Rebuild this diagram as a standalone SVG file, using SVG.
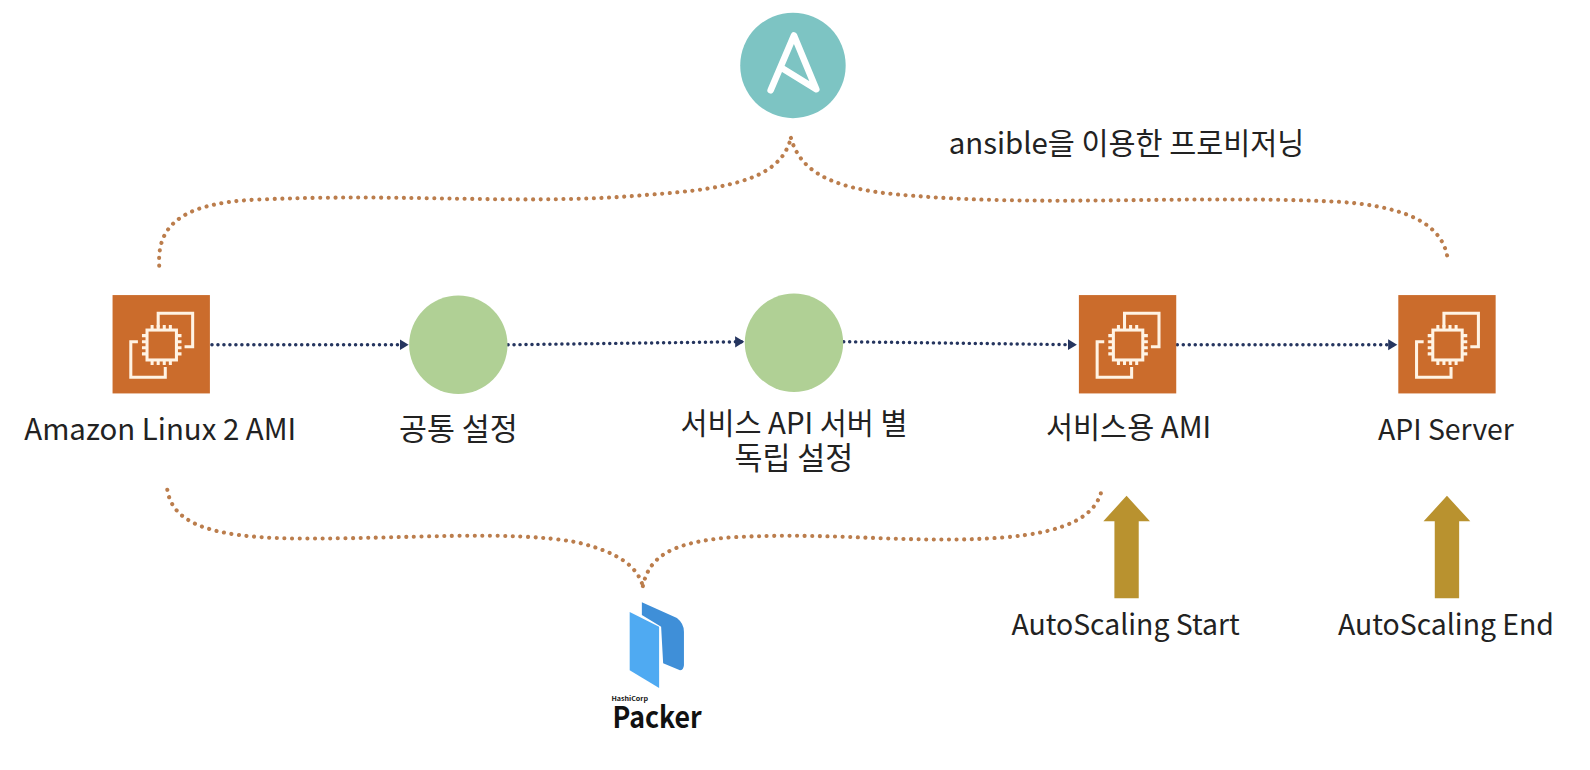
<svg xmlns="http://www.w3.org/2000/svg" width="1590" height="770" viewBox="0 0 1590 770">
<style>
text{font-family:"Noto Sans CJK KR","Noto Sans",sans-serif;font-size:29px;fill:#222;text-anchor:middle}
.lat{font-size:28px}
.kor{font-size:30px}
.flow{fill:none;stroke:#25355f;stroke-width:3.4;stroke-linecap:round;stroke-dasharray:.1 5.8}
.brace{fill:none;stroke:#bb7d4c;stroke-width:4;stroke-linecap:round;stroke-dasharray:.1 7.4}
.chip{fill:none;stroke:#fff3e4;stroke-width:3}
.step{fill:#b0d095}
.up{fill:#b9922f}
</style>
<defs>
<marker id="ah" markerUnits="userSpaceOnUse" markerWidth="11" markerHeight="12" refX="9" refY="5.500" orient="auto"><path d="M0 0L9 5.500L0 11Z" fill="#25355f"/></marker>
<g id="ec2">
<rect width="96" height="97" fill="#cb6c2c"/>
<path class="chip" d="M45 32V18H79V51H71M25 46H18V81H52V71"/>
<rect class="chip" x="34" y="34.500" width="29" height="29.500"/>
<path class="chip" d="M39 34.500v-5M45 34.500v-5M51 34.500v-5M57 34.500v-5M39 64v5M45 64v5M51 64v5M57 64v5M34 40h-5M34 46h-5M34 52h-5M34 58h-5M63 40h5M63 46h5M63 52h5M63 58h5"/>
</g>
</defs>
<g transform="scale(1.014)">
<g id="connectors">
<path class="flow" marker-end="url(#ah)" d="M209 340H403"/>
<path class="flow" marker-end="url(#ah)" d="M501 340L734 337"/>
<path class="flow" marker-end="url(#ah)" d="M832 337L1062 340"/>
<path class="flow" marker-end="url(#ah)" d="M1161 340H1378"/>
<path class="brace" d="M157 262C155 225 175 201 250 197C400 190 520 203 640 192C725 186 770 175 780 136"/>
<path class="brace" d="M780 136C790 172 825 188 900 193C1030 204 1180 192 1320 199C1395 204 1425 225 1428 258"/>
<path class="brace" d="M165 483C170 515 205 530 290 531C400 532 500 522 570 535C610 545 628 558 634 578"/>
<path class="brace" d="M634 578C640 550 660 535 720 530C820 524 900 537 990 530C1050 525 1082 510 1087 481"/>
</g>
<g id="ansible">
<circle cx="782" cy="64.500" r="52" fill="#7dc4c3"/>
<path d="M760 89L783 35L805 88L771 67" fill="none" stroke="#fff" stroke-width="6.500" stroke-linejoin="round" stroke-linecap="round"/>
</g>
<text x="1111" y="152">ansible을 이용한 프로비저닝</text>
<g id="ami-base"><use href="#ec2" x="111" y="291"/><text x="158" y="434">Amazon Linux 2 AMI</text></g>
<g id="common"><circle class="step" cx="452" cy="340" r="48.500"/><text class="kor" x="452" y="434">공통 설정</text></g>
<g id="service"><circle class="step" cx="783" cy="338" r="48.500"/><text x="783" y="428"><tspan x="783">서비스 API 서버 별</tspan><tspan class="kor" x="783" dy="35">독립 설정</tspan></text></g>
<g id="ami-service"><use href="#ec2" x="1064" y="291"/><text x="1113" y="432">서비스용 AMI</text></g>
<g id="api-server"><use href="#ec2" x="1379" y="291"/><text class="lat" x="1426" y="434">API Server</text></g>
<g id="packer">
<path d="M621 603.500L650 618V678.500L621 661Z" fill="#4faaf2"/>
<path d="M633 594L667.600 609.500Q674.500 615 674.500 623V656Q674 661 670.600 661L654 654L652 618L633 606.500Z" fill="#3f8fd8"/>
<text style="font-weight:700;fill:#111"><tspan x="621" y="691" textLength="36" lengthAdjust="spacingAndGlyphs" style="font-size:6px">HashiCorp</tspan><tspan x="648" y="718" textLength="88" lengthAdjust="spacingAndGlyphs" style="font-size:29px">Packer</tspan></text>
</g>
<g id="start"><path class="up" d="M1111 489L1134 514H1123V590H1099V514H1088Z"/><text class="lat" x="1110" y="626">AutoScaling Start</text></g>
<g id="end"><path class="up" d="M1427 489L1450 514H1439V590H1415V514H1404Z"/><text class="lat" x="1426" y="626">AutoScaling End</text></g>
</g>
</svg>
